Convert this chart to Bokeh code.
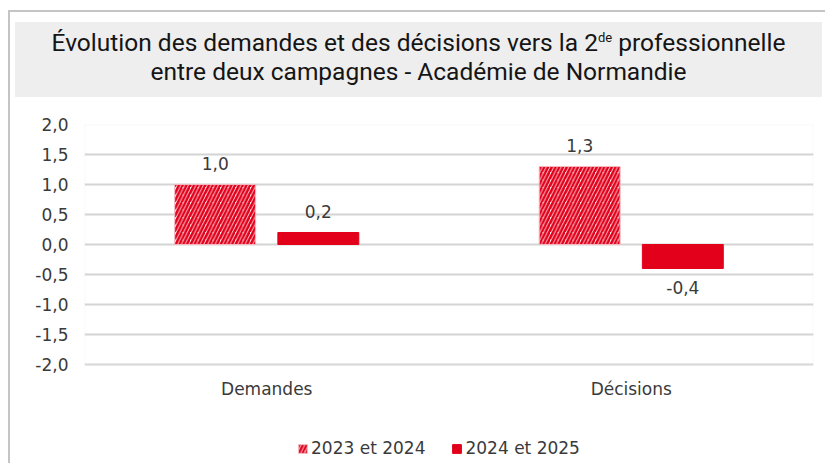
from bokeh.plotting import figure
from bokeh.models import (ColumnDataSource, FactorRange, Range1d, FixedTicker,
                          Legend, LegendItem, Div, BoxAnnotation)
from bokeh.layouts import column
from bokeh.transform import dodge
from bokeh.core.properties import value
from bokeh.embed import file_html
from bokeh.resources import INLINE

categories = ["Demandes", "Décisions"]
series_names = ["2023 et 2024", "2024 et 2025"]
values_2023_2024 = [1.0, 1.3]
values_2024_2025 = [0.2, -0.4]
y_ticks = [-2.0, -1.5, -1.0, -0.5, 0.0, 0.5, 1.0, 1.5, 2.0]

RED = "#e2001a"
TXT = "#3a3a3a"
FONT = "DejaVu Sans"
FS = "17px"

def fr(v):
    return f"{v:.1f}".replace(".", ",")

src = ColumnDataSource(dict(
    cat=categories,
    a=values_2023_2024,
    a_lbl=[fr(v) for v in values_2023_2024],
    b_top=[max(v, 0) for v in values_2024_2025],
    b_bot=[min(v, 0) for v in values_2024_2025],
))

title_html = (
    "<div style='font-family:\"Roboto\",sans-serif;"
    "font-size:24.5px;line-height:29px;color:#151515;text-align:center;"
    "background:#eeeeee;width:807px;height:75px;padding-top:6px;box-sizing:border-box;'>"
    "Évolution des demandes et des décisions vers la 2<sup style='font-size:13px;line-height:0'>de</sup> professionnelle<br>"
    "entre deux campagnes - Académie de Normandie</div>"
)
div = Div(text=title_html, width=807, height=75, margin=(10, 0, 0, 5))

# plotting area spans the tick range; the frame is extended below it to host
# the category labels and the legend
y_lo, y_hi = y_ticks[0], y_ticks[-1]
extra = 1.617
p = figure(x_range=FactorRange(*categories), y_range=Range1d(y_lo - extra, y_hi),
           width=815, height=366, output_backend="svg", toolbar_location=None,
           min_border_left=74, min_border_right=12, min_border_top=27,
           min_border_bottom=2, margin=(0, 0, 0, 0))
p.background_fill_color = "white"
p.border_fill_color = "white"
p.outline_line_color = None
p.add_layout(BoxAnnotation(bottom=y_lo, top=y_hi, fill_color=None,
                           line_color="#e3e3e3", line_width=1.5, level="underlay"))

bw = 0.222
off = 0.1415
r1 = p.vbar(x=dodge("cat", -off, range=p.x_range), top="a", bottom=0, width=bw,
            source=src, fill_color="#fff4f5", line_color="#f4b8c0", line_width=1,
            hatch_pattern="right_diagonal_line", hatch_color=RED,
            hatch_scale=7.5, hatch_weight=2.6)
r2 = p.vbar(x=dodge("cat", off, range=p.x_range), top="b_top", bottom="b_bot",
            width=bw, source=src, fill_color=RED, line_color=RED)

p.text(x=dodge("cat", -off, range=p.x_range), y="a", text="a_lbl", source=src,
       text_align="center", text_baseline="bottom", y_offset=-14,
       text_font=value(FONT), text_font_size=FS, text_color=TXT)
src_pos = ColumnDataSource(dict(cat=[c for c, v in zip(categories, values_2024_2025) if v >= 0],
                                y=[v for v in values_2024_2025 if v >= 0],
                                t=[fr(v) for v in values_2024_2025 if v >= 0]))
src_neg = ColumnDataSource(dict(cat=[c for c, v in zip(categories, values_2024_2025) if v < 0],
                                y=[v for v in values_2024_2025 if v < 0],
                                t=[fr(v) for v in values_2024_2025 if v < 0]))
p.text(x=dodge("cat", off, range=p.x_range), y="y", text="t", source=src_pos,
       text_align="center", text_baseline="bottom", y_offset=-14,
       text_font=value(FONT), text_font_size=FS, text_color=TXT)
p.text(x=dodge("cat", off, range=p.x_range), y="y", text="t", source=src_neg,
       text_align="center", text_baseline="top", y_offset=13,
       text_font=value(FONT), text_font_size=FS, text_color=TXT)

# category labels under the plotting area
p.text(x=categories, y=[y_lo] * len(categories), text=categories,
       text_align="center", text_baseline="top", y_offset=15,
       text_font=value(FONT), text_font_size=FS, text_color=TXT)

p.xaxis.visible = False
p.yaxis.ticker = FixedTicker(ticks=y_ticks)
p.yaxis.major_label_overrides = {t: fr(t) for t in y_ticks}
ax = p.yaxis
ax.axis_line_color = None
ax.major_tick_line_color = None
ax.minor_tick_line_color = None
ax.major_tick_out = 0
ax.major_tick_in = 0
ax.major_label_text_font = FONT
ax.major_label_text_font_size = FS
ax.major_label_text_color = TXT
p.yaxis.major_label_standoff = 16
p.xgrid.grid_line_color = None
p.ygrid.grid_line_color = "#d4d4d4"
p.ygrid.grid_line_width = 2

legend = Legend(items=[LegendItem(label=series_names[0], renderers=[r1]),
                       LegendItem(label=series_names[1], renderers=[r2])],
                orientation="horizontal", location=(213, 3),
                glyph_width=11, glyph_height=11, spacing=26, label_standoff=3,
                padding=0, margin=0,
                label_text_font=FONT, label_text_font_size=FS,
                label_text_color=TXT, border_line_color=None,
                background_fill_alpha=0)
p.add_layout(legend, "center")

layout = column(div, p, margin=(10, 0, 0, 8),
                styles={"border-top": "2px solid #c4c4c4",
                        "border-left": "2px solid #c4c4c4"})

open("out.html", "w").write(file_html(layout, INLINE))
